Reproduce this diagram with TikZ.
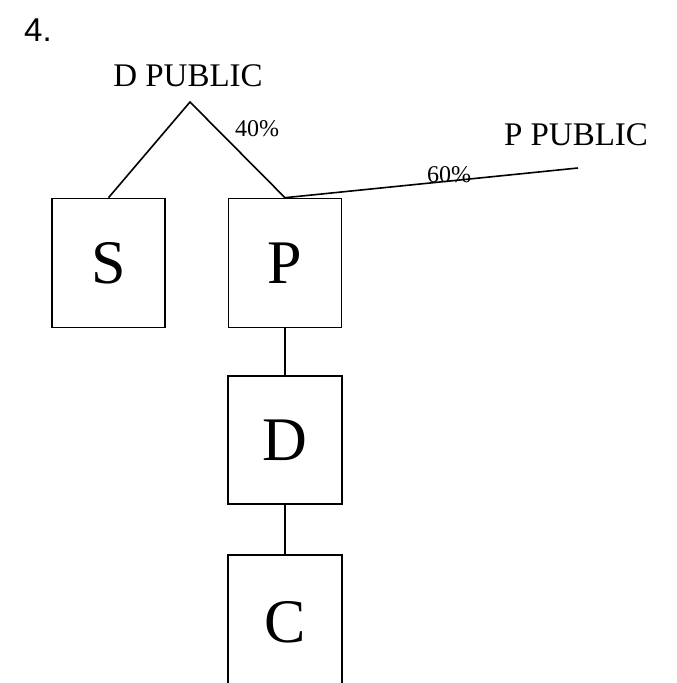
\documentclass[tikz,border=0pt]{standalone}
\usepackage{fontspec}
\setmainfont{Liberation Serif}
\newfontfamily\numfont{Liberation Sans}
\begin{document}
\begin{tikzpicture}[x=1pt,y=-1pt,
  entity/.style={draw,line width=1.6pt,minimum width=113pt,minimum height=129pt,inner sep=0pt,font=\fontsize{62}{64}\selectfont},
  link/.style={line width=1.6pt},
  pub/.style={font=\fontsize{33}{35}\selectfont,inner sep=0pt},
  pct/.style={font=\fontsize{24}{26}\selectfont,inner sep=0pt}]
\useasboundingbox (0,0) rectangle (677,683);
\clip (0,0) rectangle (677,683);
\node[font=\numfont\fontsize{33}{35}\selectfont,inner sep=0pt] (num) at (38,30) {4.};
\node[pub] (dpub) at (188,76) {D PUBLIC};
\node[pub] (ppub) at (576,135) {P PUBLIC};
\coordinate (apex) at (190,102);
\coordinate (pend) at (578,168);
\node[entity] (S) at (108.5,263) {S};
\node[entity] (P) at (285,263) {P};
\node[entity,minimum width=114pt,minimum height=128pt] (D) at (285,440) {D};
\node[entity,minimum width=114pt,minimum height=134pt] (C) at (285,622) {C};
\draw[link] (S.north) -- (apex) -- (P.north);
\draw[link] (P.north) -- (pend);
\draw[link] (P.south) -- (D.north);
\draw[link] (D.south) -- (C.north);
\node[pct] (p40) at (257,129) {40\%};
\node[pct] (p60) at (449,175) {60\%};
\end{tikzpicture}
\end{document}
